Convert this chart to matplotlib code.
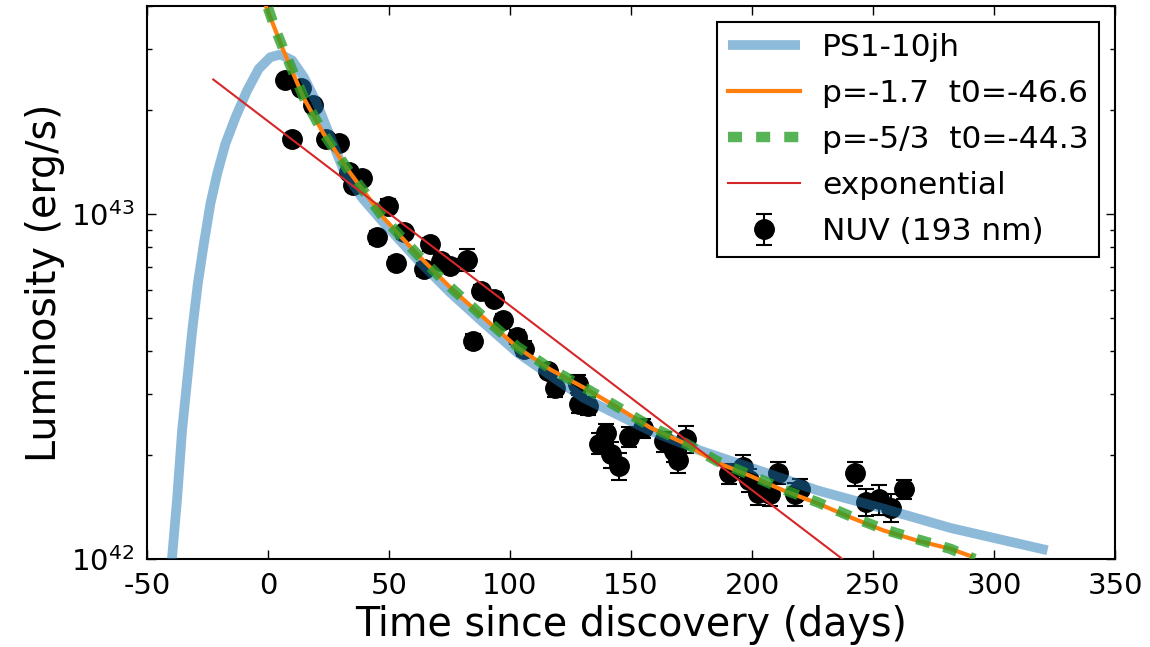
import matplotlib
matplotlib.use('Agg')
import matplotlib.pyplot as plt
from matplotlib.ticker import LogLocator, NullFormatter, MultipleLocator

plt.rcParams['font.family'] = ['DejaVu Sans']
plt.rcParams['axes.unicode_minus'] = False
plt.rcParams['mathtext.fontset'] = 'dejavusans'

# ---------------- data (luminosity in units of 1e42 erg/s) ----------------
t_obs = [7.2, 10.1, 13.8, 18.8, 23.8, 29.5, 33.3, 35.3, 39.0, 45.2,
         49.4, 52.7, 56.0, 64.3, 67.1, 71.3, 75.4, 82.4, 84.9, 88.2,
         93.2, 97.3, 103.1, 105.6, 115.5, 118.4, 128.0, 128.6, 132.4, 136.6,
         139.5, 141.9, 145.2, 149.0, 154.8, 163.8, 167.6, 169.6, 172.9, 190.3,
         196.1, 198.6, 202.3, 207.6, 210.9, 217.6, 220.0, 242.4, 246.9, 252.3,
         257.6, 263.0]
lum_obs = [24.35, 16.42, 23.08, 20.60, 16.42, 16.09, 13.26, 12.16, 12.74, 8.54,
           10.57, 7.22, 8.83, 6.90, 8.15, 7.32, 7.08, 7.37, 4.29, 5.99,
           5.68, 4.91, 4.41, 4.07, 3.51, 3.12, 3.22, 2.82, 2.78, 2.16,
           2.31, 2.01, 1.86, 2.26, 2.39, 2.19, 2.06, 1.93, 2.23, 1.77,
           1.85, 1.69, 1.55, 1.54, 1.78, 1.54, 1.60, 1.77, 1.46, 1.49,
           1.41, 1.59]
lum_err = [0.8, 0.6, 0.8, 0.7, 0.6, 0.6, 0.5, 0.5, 0.5, 0.35,
           0.45, 0.3, 0.35, 0.3, 0.35, 0.3, 0.3, 0.55, 0.2, 0.25,
           0.25, 0.2, 0.2, 0.2, 0.15, 0.17, 0.2, 0.17, 0.17, 0.15,
           0.15, 0.17, 0.17, 0.15, 0.15, 0.15, 0.15, 0.15, 0.2, 0.12,
           0.15, 0.13, 0.12, 0.12, 0.13, 0.12, 0.11, 0.14, 0.13, 0.15,
           0.13, 0.10]

# PS1-10jh model curve
t_ps1 = [-39.8, -37.5, -35.5, -33.4, -31.3, -29.0, -26.5, -23.8, -21.0, -17.6,
         -13.4, -8.6, -3.8, 1.0, 5.2, 10.0, 14.8, 20.3, 25.8, 31.3,
         39.0, 47.7, 61.8, 75.4, 89.0, 103.1, 116.7, 130.4, 144.4, 158.1,
         178.7, 199.4, 227.1, 254.3, 282.0, 322.1]
lum_ps1 = [0.98, 1.509, 2.355, 3.287, 4.59, 6.27, 8.19, 10.69, 13.06, 15.95,
           19.05, 22.78, 26.32, 28.44, 28.95, 27.83, 24.89, 20.84, 16.67, 13.35,
           11.1, 9.44, 7.37, 5.91, 4.84, 3.96, 3.40, 2.93, 2.62, 2.35,
           2.06, 1.84, 1.58, 1.40, 1.23, 1.06]

# power law p=-1.7, t0=-46.6
t_p17 = [-1.0, 3.1, 6.4, 14.7, 22.9, 34.1, 47.7, 61.8, 75.4, 89.0, 103.1,
         116.7, 130.4, 144.4, 158.1, 171.7, 185.7, 199.4, 213.0, 227.1, 240.7,
         254.3, 268.4, 282.0, 290.3]
lum_p17 = [40.2, 34.0, 29.7, 21.7, 17.1, 13.1, 9.75, 7.62, 6.11, 5.01, 4.10,
           3.54, 3.14, 2.75, 2.40, 2.17, 1.90, 1.74, 1.58, 1.45, 1.32,
           1.21, 1.13, 1.07, 1.02]

# power law p=-5/3, t0=-44.3
t_p53 = [0.0, 3.1, 6.4, 14.7, 22.9, 34.1, 47.7, 61.8, 75.4, 89.0, 103.1,
         116.7, 130.4, 144.4, 158.1, 171.7, 185.7, 199.4, 213.0, 227.1, 240.7,
         254.3, 268.4, 282.0, 292.0]
lum_p53 = [39.5, 34.2, 30.0, 21.8, 17.1, 13.1, 9.75, 7.62, 6.13, 5.03, 4.12,
           3.56, 3.15, 2.76, 2.42, 2.18, 1.92, 1.75, 1.59, 1.46, 1.33,
           1.22, 1.14, 1.07, 1.00]

# exponential fit (straight line in log space; end points)
t_exp = [-22.6, 245.0]
lum_exp = [24.5, 0.91]

labels = ['PS1-10jh', 'p=-1.7  t0=-46.6', 'p=-5/3  t0=-44.3', 'exponential', 'NUV (193 nm)']

scale = 1e42

fig = plt.figure(figsize=(11.5, 6.47), dpi=100)
ax = fig.add_axes([0.1278, 0.136, 0.8418, 0.8547])

eb = ax.errorbar(t_obs, [v * scale for v in lum_obs], yerr=[e * scale for e in lum_err],
                 fmt='o', color='black', ms=14, elinewidth=1.5, capsize=5.5, capthick=1.5,
                 zorder=2, label=labels[4])
l1, = ax.plot(t_ps1, [v * scale for v in lum_ps1], color='#1f77b4', alpha=0.5, lw=7,
              solid_capstyle='butt', solid_joinstyle='round', zorder=3, label=labels[0])
l2, = ax.plot(t_p17, [v * scale for v in lum_p17], color='#ff7f0e', lw=3, zorder=4,
              label=labels[1])
l3, = ax.plot(t_p53, [v * scale for v in lum_p53], color='#2ca02c', alpha=0.8, lw=7.5,
              dashes=(1.35, 1.35), dash_capstyle='butt', zorder=5, label=labels[2])
l4, = ax.plot(t_exp, [v * scale for v in lum_exp], color='#d62728', lw=1.5, zorder=6,
              label=labels[3])

ax.set_yscale('log')
ax.set_xlim(-50, 350)
ax.set_ylim(1e42, 4e43)
ax.xaxis.set_major_locator(MultipleLocator(50))
ax.yaxis.set_major_locator(LogLocator(base=10))
ax.yaxis.set_minor_locator(LogLocator(base=10, subs=range(2, 10)))
ax.yaxis.set_minor_formatter(NullFormatter())

ax.tick_params(which='both', direction='in', top=True, right=True, labelsize=21)
ax.tick_params(which='major', length=6.5, width=1, pad=9)
ax.tick_params(which='minor', length=3.6, width=1)
for s in ax.spines.values():
    s.set_linewidth(1.5)

ax.set_xlabel('Time since discovery (days)', fontsize=28.5, labelpad=4)
ax.set_ylabel('Luminosity (erg/s)', fontsize=28.5, labelpad=4)

leg = ax.legend([l1, l2, l3, l4, eb], labels, loc='upper right', fontsize=22.5,
                numpoints=1, fancybox=False, framealpha=1, edgecolor='black',
                handlelength=2.3, handletextpad=0.7, borderpad=0.35,
                labelspacing=0.55, borderaxespad=0.5)
leg.get_frame().set_linewidth(1.5)

fig.savefig('out.png', dpi=100)
